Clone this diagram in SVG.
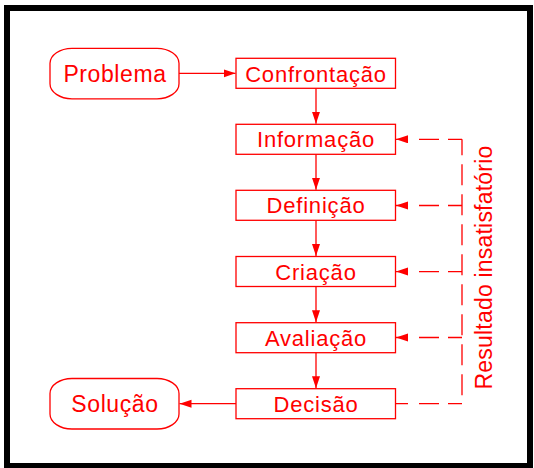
<svg xmlns="http://www.w3.org/2000/svg" width="534" height="468" viewBox="0 0 534 468">
<style>
.box{fill:#fff;stroke:#ff0000;stroke-width:1.3}
.lbl{font-family:"Liberation Sans",Arial,sans-serif;font-size:22px;letter-spacing:0.8px;fill:#ff0000;text-anchor:middle}
.olbl{font-family:"Liberation Sans",Arial,sans-serif;font-size:23px;letter-spacing:0.6px;fill:#ff0000;text-anchor:middle}
.con{fill:none;stroke:#ff0000;stroke-width:1.3}
.fb{fill:none;stroke:#ff0000;stroke-width:1.3;stroke-dasharray:14 9 20 11 30}
</style>
<defs>
<marker id="ah" markerUnits="userSpaceOnUse" markerWidth="13" markerHeight="9" refX="12" refY="4" orient="auto">
<path d="M0,0 L12,4 L0,8 z" fill="#ff0000"/>
</marker>
</defs>
<rect x="0" y="0" width="534" height="468" fill="#fff"/>
<rect id="frame" x="7" y="8" width="523" height="458" fill="none" stroke="#000" stroke-width="6"/>
<g id="connectors">
<path class="con" d="M179,73.3 H235.5" marker-end="url(#ah)"/>
<path class="con" d="M316,88.3 V123.8" marker-end="url(#ah)"/>
<path class="con" d="M316,154.3 V189.8" marker-end="url(#ah)"/>
<path class="con" d="M316,220.3 V256" marker-end="url(#ah)"/>
<path class="con" d="M316,286.5 V322.2" marker-end="url(#ah)"/>
<path class="con" d="M316,352.7 V388.2" marker-end="url(#ah)"/>
<path class="con" d="M236,403.7 H179.5" marker-end="url(#ah)"/>
<path class="fb" d="M462,139.3 H396" marker-end="url(#ah)"/>
<path class="fb" d="M462,205.5 H396" marker-end="url(#ah)"/>
<path class="fb" d="M462,271.6 H396" marker-end="url(#ah)"/>
<path class="fb" d="M462,337.5 H396" marker-end="url(#ah)"/>
<path class="fb" d="M462,403.7 H395.5"/>
<path class="con" d="M462,139.3 V403.7" stroke-dasharray="21 9" stroke-dashoffset="5"/>
</g>
<g id="problema">
<rect class="box" x="50" y="48.3" width="129" height="50.5" rx="22" ry="15"/>
<text class="olbl" x="115" y="82">Problema</text>
</g>
<g id="confrontacao">
<rect class="box" x="236" y="58.3" width="159.5" height="30"/>
<text class="lbl" x="316" y="81.5">Confrontação</text>
</g>
<g id="informacao">
<rect class="box" x="236" y="124.3" width="159.5" height="30"/>
<text class="lbl" x="316" y="147.3">Informação</text>
</g>
<g id="definicao">
<rect class="box" x="236" y="190.3" width="159.5" height="30"/>
<text class="lbl" x="316" y="213.3">Definição</text>
</g>
<g id="criacao">
<rect class="box" x="236" y="256.5" width="159.5" height="30"/>
<text class="lbl" x="316" y="279.5">Criação</text>
</g>
<g id="avaliacao">
<rect class="box" x="236" y="322.7" width="159.5" height="30"/>
<text class="lbl" x="316" y="345.7">Avaliação</text>
</g>
<g id="decisao">
<rect class="box" x="236" y="388.7" width="159.5" height="30"/>
<text class="lbl" x="316" y="411.7">Decisão</text>
</g>
<g id="solucao">
<rect class="box" x="50" y="378.5" width="129" height="50.5" rx="22" ry="15"/>
<text class="olbl" x="115" y="412.2">Solução</text>
</g>
<g id="resultado">
<text class="olbl" style="font-size:23px;letter-spacing:0.2px" transform="translate(492,267.5) rotate(-90)" x="0" y="0">Resultado insatisfatório</text>
</g>
</svg>
